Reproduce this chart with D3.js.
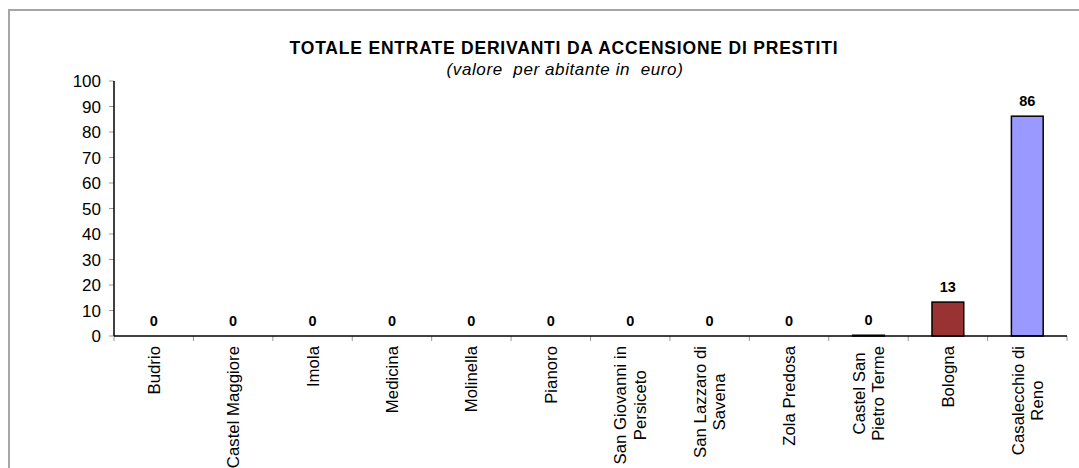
<!DOCTYPE html>
<html lang="it">
<head>
    <meta charset="UTF-8">
    <title>Totale entrate derivanti da accensione di prestiti</title>
    <script src="https://d3js.org/d3.v7.min.js"></script>
    <style>
        body { margin: 0; background: #fff; }
        svg { display: block; font-family: "Liberation Sans", Arial, sans-serif; }
        .frame { fill: none; stroke: #a6a6a6; stroke-width: 2px; }
        .axis-line { stroke: #000; stroke-width: 1.5px; }
        .tick-mark { stroke: #999; stroke-width: 1px; }
        .bar { stroke: #000; stroke-width: 1.5px; }
    </style>
</head>
<body>
<svg width="1079" height="468"></svg>
<script>
    const categories = ["Budrio", "Castel Maggiore", "Imola", "Medicina", "Molinella", "Pianoro",
        "San Giovanni in\nPersiceto", "San Lazzaro di\nSavena", "Zola Predosa",
        "Castel San\nPietro Terme", "Bologna", "Casalecchio di\nReno"];
    const values = [0, 0, 0, 0, 0, 0, 0, 0, 0, 0.3, 13.3, 86.2];
    const barColors = ["#9999ff", "#9999ff", "#9999ff", "#9999ff", "#9999ff", "#9999ff",
        "#9999ff", "#9999ff", "#9999ff", "#333399", "#993333", "#9999ff"];
    const yTicks = [0, 10, 20, 30, 40, 50, 60, 70, 80, 90, 100];
    const title = "TOTALE ENTRATE DERIVANTI DA ACCENSIONE DI PRESTITI";
    const subtitle = "(valore  per abitante in  euro)";

    const svg = d3.select("svg");
    const plotLeft = 114, plotRight = 1067, plotTop = 81, plotBottom = 336;

    svg.append("rect").attr("class", "frame")
        .attr("x", 9).attr("y", 10).attr("width", 1100).attr("height", 500);

    const x = d3.scaleBand().domain(d3.range(categories.length))
        .range([plotLeft, plotRight]).paddingInner(0.6).paddingOuter(0.3);
    const xb = d3.scaleBand().domain(d3.range(categories.length)).range([plotLeft, plotRight]);
    const y = d3.scaleLinear().domain([0, 100]).range([plotBottom, plotTop]);

    // title
    svg.append("text").attr("x", 564).attr("y", 54)
        .attr("text-anchor", "middle").style("font-weight", "bold").style("font-size", "17.5px")
        .style("letter-spacing", "0.8px")
        .text(title);
    svg.append("text").attr("x", 565).attr("y", 75)
        .attr("text-anchor", "middle").style("font-style", "italic").style("font-size", "17px")
        .style("letter-spacing", "0.6px").style("white-space", "pre")
        .text(subtitle);

    // y axis
    const yg = svg.append("g");
    yTicks.forEach(t => {
        yg.append("line").attr("class", "tick-mark")
            .attr("x1", plotLeft - 5).attr("x2", plotLeft).attr("y1", y(t)).attr("y2", y(t));
        yg.append("text").attr("x", plotLeft - 13).attr("y", y(t) + 6)
            .attr("text-anchor", "end").style("font-size", "17px").text(t);
    });
    yg.append("line").attr("class", "axis-line")
        .attr("x1", plotLeft).attr("x2", plotLeft).attr("y1", plotTop).attr("y2", plotBottom);

    // bars
    svg.append("g").selectAll("rect").data(values).join("rect")
        .attr("class", "bar")
        .attr("x", (d, i) => x(i))
        .attr("width", x.bandwidth())
        .attr("y", d => y(d))
        .attr("height", d => plotBottom - y(d))
        .attr("fill", (d, i) => barColors[i]);

    // value labels
    svg.append("g").selectAll("text").data(values).join("text")
        .attr("x", (d, i) => x(i) + x.bandwidth() / 2)
        .attr("y", d => y(d) - 10)
        .attr("text-anchor", "middle").style("font-weight", "bold").style("font-size", "14.5px")
        .text(d => Math.round(d));

    // x axis
    const xg = svg.append("g");
    d3.range(categories.length + 1).forEach(i => {
        const px = i < categories.length ? xb(i) : plotRight;
        xg.append("line").attr("class", "tick-mark")
            .attr("x1", px).attr("x2", px).attr("y1", plotBottom).attr("y2", plotBottom + 5);
    });
    xg.append("line").attr("class", "axis-line")
        .attr("x1", plotLeft).attr("x2", plotRight).attr("y1", plotBottom).attr("y2", plotBottom);

    // rotated category labels
    const lineGap = 19.5;
    categories.forEach((c, i) => {
        const lines = c.split("\n");
        const cx = xb(i) + xb.bandwidth() / 2;
        const g = xg.append("g");
        const texts = lines.map(l => g.append("text")
            .attr("text-anchor", "middle").style("font-size", "16.8px").text(l));
        const w = d3.max(texts, t => t.node().getComputedTextLength());
        const cy = plotBottom + 10 + w / 2;
        texts.forEach((t, k) => {
            const off = (k - (lines.length - 1) / 2) * lineGap;
            const tx = cx + off + 6;
            t.attr("transform", `translate(${tx},${cy}) rotate(-90)`);
        });
    });
</script>
</body>
</html>
